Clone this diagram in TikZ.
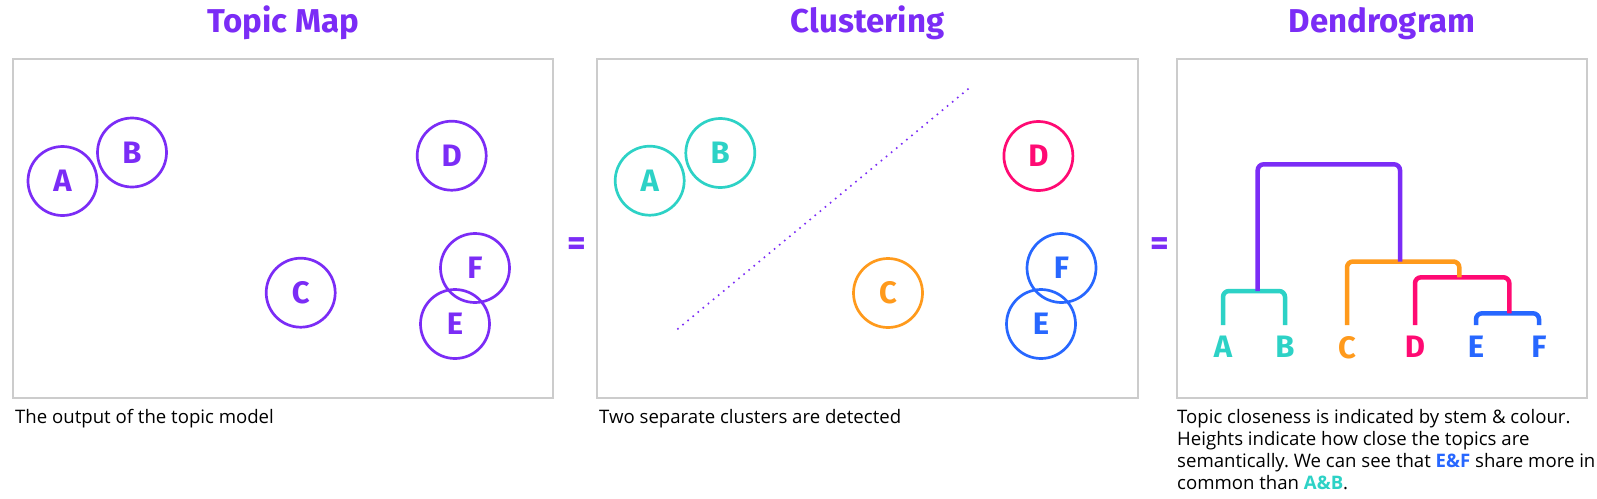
\documentclass[tikz,border=0pt]{standalone}
\usepackage{fontspec}
\setmainfont{Open Sans}
\newfontfamily\headfont{Fira Sans}
\usetikzlibrary{positioning}
\frenchspacing

\definecolor{topicpurple}{HTML}{7B2CF6}
\definecolor{topicteal}{HTML}{2DD2C6}
\definecolor{topicorange}{HTML}{FF9A1C}
\definecolor{topicpink}{HTML}{FF0A73}
\definecolor{topicblue}{HTML}{2767FF}
\definecolor{boxgray}{HTML}{CCCCCC}

\tikzset{
  title/.style={anchor=base, inner sep=0pt, text=topicpurple, font=\headfont\bfseries\fontsize{33}{36}\selectfont},
  panel/.style={draw=boxgray, line width=1.8pt},
  topic/.style={circle, draw=#1, text=#1, line width=2.7pt, minimum size=69pt, inner sep=0pt, font=\headfont\bfseries\fontsize{31}{34}\selectfont},
  leaf/.style={anchor=north, inner sep=0pt, text=#1, font=\headfont\bfseries\fontsize{31}{34}\selectfont},
  stem/.style={draw=#1, line width=4.5pt, rounded corners=6pt},
  equals/.style={inner sep=0pt, text=topicpurple, font=\headfont\bfseries\fontsize{36}{40}\selectfont},
  caption/.style={anchor=base west, inner sep=0pt, align=left, font=\fontsize{18.6}{21.9}\selectfont}
}

\begin{document}
\begin{tikzpicture}[x=1pt,y=-1pt]
\path[fill=white] (0,0) rectangle (1597,498);
\useasboundingbox (0,0) rectangle (1597,498);

% titles
\node[title] (t1) at (283,32.7) {Topic Map};
\node[title] (t2) at (867.5,32.7) {Clustering};
\node[title] (t3) at (1382,32.7) {Dendrogram};

% panels
\draw[panel] (12.7,58.7) rectangle (553,398);
\draw[panel] (597,58.7) rectangle (1138,398);
\draw[panel] (1177,58.7) rectangle (1587,398);

\node[equals] (eq1) at (577,247) {=};
\node[equals] (eq2) at (1160,247) {=};

% topic map
\node[topic=topicpurple] (mA) at (62.5,181) {A};
\node[topic=topicpurple] (mB) at (132,152.5) {B};
\node[topic=topicpurple] (mC) at (300.7,292.7) {C};
\node[topic=topicpurple] (mD) at (451.7,155.7) {D};
\node[topic=topicpurple] (mF) at (475,268) {F};
\node[topic=topicpurple] (mE) at (455,324) {E};

% clustering
\node[topic=topicteal] (cA) at (649.7,180.7) {A};
\node[topic=topicteal] (cB) at (720.3,153) {B};
\node[topic=topicorange] (cC) at (888,293) {C};
\node[topic=topicpink] (cD) at (1038.4,156) {D};
\node[topic=topicblue] (cF) at (1061.5,268) {F};
\node[topic=topicblue] (cE) at (1041,324) {E};
\draw[topicpurple, line width=1.6pt, dash pattern=on 1.6pt off 5pt] (677.3,329.3) -- (969.3,88);

% dendrogram
\node[leaf=topicteal] (lA) at (1223,336) {A};
\node[leaf=topicteal] (lB) at (1285,336) {B};
\node[leaf=topicorange] (lC) at (1347,336) {C};
\node[leaf=topicpink] (lD) at (1415,336) {D};
\node[leaf=topicblue] (lE) at (1476,336) {E};
\node[leaf=topicblue] (lF) at (1539,336) {F};
\coordinate (ab) at (1257.7,291);
\coordinate (root) at (1328,164.3);
\coordinate (cdef) at (1400,261.5);
\coordinate (def) at (1459.3,277.3);
\coordinate (ef) at (1509.3,313.3);
\draw[stem=topicteal] ([yshift=11pt]lA.north) |- (ab) -| ([yshift=11pt]lB.north);
\draw[stem=topicblue] ([yshift=11pt]lE.north) |- (ef) -| ([yshift=11pt]lF.north);
\draw[stem=topicpink] ([yshift=11pt]lD.north) |- (def) -| (ef);
\draw[stem=topicorange] ([yshift=11pt]lC.north) |- (cdef) -| (def);
\draw[stem=topicpurple] (ab) |- (root) -| (cdef);

% captions
\node[caption] (cap1) at (15,423.3) {The output of the topic model};
\node[caption] (cap2) at (599,423.3) {Two separate clusters are detected};
\node[caption] (cap3) at (1177,489) {Topic closeness is indicated by stem \& colour.\\
Heights indicate how close the topics are\\
semantically. We can see that \textcolor{topicblue}{\bfseries E\&F} share more in\\
common than \textcolor{topicteal}{\bfseries A\&B}.};
\end{tikzpicture}
\end{document}
